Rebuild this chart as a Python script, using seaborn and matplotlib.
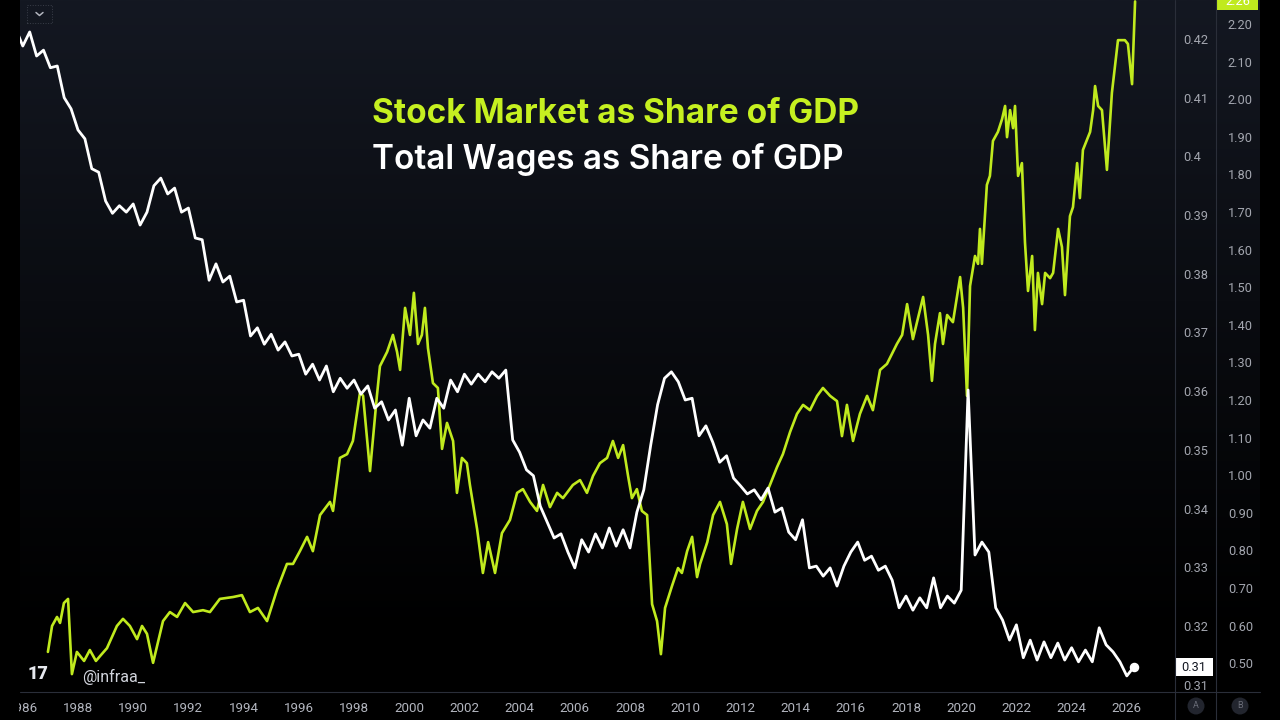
import numpy as np
import pandas as pd
import matplotlib
matplotlib.use("Agg")
import matplotlib.pyplot as plt
import seaborn as sns
from matplotlib.patches import Rectangle, Ellipse
from matplotlib.lines import Line2D
import matplotlib.transforms as mtrans

# ---------------- data ----------------
wage_start = 1985.75   # quarterly series start (decimal year)
wage_vals = [
    0.4217, 0.4188, 0.4212, 0.4171, 0.4181, 0.4151, 0.4154, 0.4100, 0.4081, 0.4045,
    0.4030, 0.3979, 0.3973, 0.3924, 0.3903, 0.3916, 0.3905, 0.3919, 0.3883, 0.3905,
    0.3950, 0.3963, 0.3936, 0.3946, 0.3905, 0.3912, 0.3861, 0.3858, 0.3789, 0.3817,
    0.3786, 0.3796, 0.3752, 0.3755, 0.3694, 0.3708, 0.3680, 0.3697, 0.3670, 0.3684,
    0.3660, 0.3663, 0.3629, 0.3646, 0.3619, 0.3643, 0.3599, 0.3622, 0.3605, 0.3619,
    0.3595, 0.3609, 0.3571, 0.3582, 0.3551, 0.3568, 0.3508, 0.3588, 0.3524, 0.3551,
    0.3537, 0.3588, 0.3571, 0.3619, 0.3599, 0.3629, 0.3612, 0.3629, 0.3616, 0.3633,
    0.3622, 0.3636, 0.3517, 0.3496, 0.3466, 0.3456, 0.3404, 0.3377, 0.3350, 0.3357,
    0.3326, 0.3299, 0.3347, 0.3326, 0.3357, 0.3333, 0.3367, 0.3336, 0.3364, 0.3333,
    0.3394, 0.3432, 0.3508, 0.3577, 0.3622, 0.3633, 0.3616, 0.3585, 0.3588, 0.3524,
    0.3541, 0.3513, 0.3479, 0.3490, 0.3452, 0.3439, 0.3425, 0.3432, 0.3415, 0.3435,
    0.3394, 0.3401, 0.3360, 0.3347, 0.3381, 0.3299, 0.3302, 0.3285, 0.3299, 0.3268,
    0.3302, 0.3326, 0.3343, 0.3312, 0.3319, 0.3295, 0.3302, 0.3278, 0.3231, 0.3251,
    0.3227, 0.3248, 0.3231, 0.3282, 0.3231, 0.3251, 0.3239, 0.3261, 0.3602, 0.3321,
    0.3343, 0.3326, 0.3231, 0.3210, 0.3176, 0.3202, 0.3146, 0.3176, 0.3142, 0.3173,
    0.3146, 0.3171, 0.3142, 0.3163, 0.3139, 0.3159, 0.3139, 0.3197, 0.3168, 0.3156,
    0.3139, 0.3115, 0.3130,
]
wage_years = wage_start + 0.25 * np.arange(len(wage_vals))

stock_years = [
    1986.91, 1987.06, 1987.24, 1987.35, 1987.49, 1987.64, 1987.78, 1987.96, 1988.22, 1988.43,
    1988.65, 1988.80, 1989.05, 1989.41, 1989.63, 1989.88, 1990.14, 1990.32, 1990.50, 1990.72,
    1991.08, 1991.33, 1991.59, 1991.88, 1992.17, 1992.53, 1992.78, 1993.14, 1993.62, 1993.94,
    1994.23, 1994.52, 1994.85, 1995.21, 1995.57, 1995.79, 1996.04, 1996.30, 1996.51, 1996.77,
    1997.13, 1997.24, 1997.49, 1997.75, 1997.96, 1998.22, 1998.33, 1998.58, 1998.83, 1998.94,
    1999.20, 1999.41, 1999.56, 1999.67, 1999.85, 2000.03, 2000.17, 2000.32, 2000.46, 2000.57,
    2000.68, 2000.86, 2001.04, 2001.19, 2001.37, 2001.59, 2001.73, 2001.91, 2002.09, 2002.20,
    2002.46, 2002.67, 2002.86, 2003.11, 2003.36, 2003.65, 2003.91, 2004.12, 2004.38, 2004.63,
    2004.85, 2005.10, 2005.36, 2005.57, 2005.93, 2006.19, 2006.44, 2006.66, 2006.91, 2007.17,
    2007.38, 2007.57, 2007.75, 2007.93, 2008.07, 2008.25, 2008.43, 2008.62, 2008.80, 2008.98,
    2009.12, 2009.27, 2009.52, 2009.74, 2009.88, 2010.07, 2010.25, 2010.43, 2010.54, 2010.80,
    2011.01, 2011.26, 2011.51, 2011.66, 2011.88, 2012.09, 2012.35, 2012.60, 2012.82, 2013.07,
    2013.33, 2013.54, 2013.80, 2014.05, 2014.27, 2014.52, 2014.78, 2014.99, 2015.25, 2015.50,
    2015.68, 2015.86, 2016.08, 2016.33, 2016.59, 2016.80, 2017.06, 2017.31, 2017.67, 2017.86,
    2018.04, 2018.25, 2018.62, 2018.80, 2018.94, 2019.05, 2019.23, 2019.34, 2019.49, 2019.70,
    2019.96, 2020.07, 2020.21, 2020.32, 2020.50, 2020.61, 2020.68, 2020.75, 2020.93, 2021.04,
    2021.15, 2021.33, 2021.48, 2021.59, 2021.66, 2021.77, 2021.88, 2021.95, 2022.06, 2022.20,
    2022.31, 2022.42, 2022.57, 2022.67, 2022.78, 2022.93, 2023.04, 2023.22, 2023.33, 2023.51,
    2023.65, 2023.76, 2023.94, 2024.05, 2024.20, 2024.30, 2024.41, 2024.67, 2024.78, 2024.85,
    2024.96, 2025.10, 2025.28, 2025.46, 2025.68, 2025.93, 2026.04, 2026.19, 2026.30,
]
stock_vals = [
    0.530, 0.599, 0.623, 0.607, 0.660, 0.671, 0.471, 0.530, 0.506, 0.535,
    0.506, 0.519, 0.540, 0.599, 0.618, 0.599, 0.564, 0.599, 0.578, 0.501,
    0.612, 0.636, 0.623, 0.660, 0.636, 0.641, 0.636, 0.671, 0.676, 0.681,
    0.636, 0.647, 0.612, 0.695, 0.764, 0.764, 0.798, 0.836, 0.798, 0.894,
    0.929, 0.905, 1.046, 1.056, 1.091, 1.221, 1.211, 1.011, 1.211, 1.290,
    1.328, 1.373, 1.328, 1.280, 1.445, 1.373, 1.485, 1.349, 1.373, 1.445,
    1.338, 1.245, 1.232, 1.070, 1.139, 1.091, 0.953, 1.046, 1.032, 0.974,
    0.857, 0.740, 0.822, 0.740, 0.846, 0.881, 0.953, 0.963, 0.929, 0.905,
    0.974, 0.915, 0.953, 0.939, 0.974, 0.987, 0.953, 0.998, 1.032, 1.046,
    1.091, 1.046, 1.080, 0.998, 0.939, 0.963, 0.905, 0.894, 0.657, 0.612,
    0.524, 0.647, 0.705, 0.753, 0.740, 0.798, 0.836, 0.729, 0.764, 0.822,
    0.894, 0.929, 0.870, 0.764, 0.857, 0.929, 0.857, 0.905, 0.929, 0.974,
    1.022, 1.056, 1.115, 1.163, 1.187, 1.173, 1.211, 1.232, 1.211, 1.197,
    1.104, 1.187, 1.091, 1.163, 1.211, 1.173, 1.280, 1.296, 1.349, 1.373,
    1.455, 1.362, 1.474, 1.373, 1.251, 1.349, 1.431, 1.349, 1.426, 1.407,
    1.527, 1.445, 1.211, 1.503, 1.583, 1.562, 1.655, 1.562, 1.772, 1.796,
    1.889, 1.913, 1.947, 1.982, 1.899, 1.971, 1.923, 1.982, 1.796, 1.830,
    1.620, 1.490, 1.583, 1.386, 1.538, 1.455, 1.538, 1.524, 1.538, 1.655,
    1.607, 1.479, 1.689, 1.713, 1.830, 1.737, 1.865, 1.913, 1.971, 2.035,
    1.982, 1.971, 1.812, 2.017, 2.157, 2.157, 2.147, 2.040, 2.260,
]

year_ticks = list(range(1986, 2027, 2))
wage_ticks = [0.31, 0.32, 0.33, 0.34, 0.35, 0.36, 0.37, 0.38, 0.39, 0.40, 0.41, 0.42]
stock_ticks = [0.5, 0.6, 0.7, 0.8, 0.9, 1.0, 1.1, 1.2, 1.3, 1.4, 1.5, 1.6, 1.7, 1.8, 1.9, 2.0, 2.1, 2.2]

title_stock = "Stock Market as Share of GDP"
title_wage = "Total Wages as Share of GDP"
watermark = "@infraa_"

# ---------------- style ----------------
GREEN = "#c0ea1e"
TITLE_GREEN = "#c6f020"
TICK_GRAY = "#a3a6af"
XTICK_GRAY = "#b2b5be"
SEP = "#2a2e39"

sns.set_theme(style="dark", rc={"axes.facecolor": "none", "figure.facecolor": "black",
                                "savefig.facecolor": "black"})
plt.rcParams['font.family'] = ['Roboto', 'DejaVu Sans']

W, H = 1280, 720
fig = plt.figure(figsize=(12.8, 7.2), dpi=100)
fig.patch.set_facecolor("black")


def fx(p):
    return p / W


def fy(p):
    return 1 - p / H


# background gradient (navy at top fading to black)
bg = fig.add_axes([fx(20), fy(692), fx(1260) - fx(20), 692 / H], zorder=-5)
t = np.linspace(0, 1, 400)[:, None]
top = np.array([20, 24, 34]) / 255
fade = np.clip(1 - t / 0.93, 0, 1) ** 1.1
grad = fade[..., None] * top[None, None, :]
bg.imshow(grad, aspect="auto", extent=[0, 1, 0, 1], interpolation="bilinear")
bg.set_axis_off()

# main axes (stock, right axis "B") and twin (wages, axis "A")
ax = fig.add_axes([fx(20), fy(692), fx(1175) - fx(20), 692 / H])
ax.set_facecolor("none")
df_s = pd.DataFrame({"year": stock_years, "val": stock_vals})
sns.lineplot(data=df_s, x="year", y="val", ax=ax, color=GREEN, linewidth=1.9,
             estimator=None, errorbar=None)

axw = ax.twinx()
df_w = pd.DataFrame({"year": wage_years, "val": wage_vals})
sns.lineplot(data=df_w, x="year", y="val", ax=axw, color="white", linewidth=2.0,
             estimator=None, errorbar=None)
axw.scatter([wage_years[-1]], [wage_vals[-1]], s=34, color="white", zorder=6)

ax.set_xlim(1985.899, 2027.746)
ax.set_ylim(0.4234, 2.2638)
axw.set_ylim(0.30876, 0.42664)

for a in (ax, axw):
    a.grid(False)
    a.set_xlabel("")
    a.set_ylabel("")
    for s in a.spines.values():
        s.set_visible(False)

ax.set_xticks(year_ticks)
ax.set_xticklabels([str(y) for y in year_ticks])
ax.tick_params(axis="x", length=0, pad=7, labelsize=9.6, labelcolor=XTICK_GRAY)

ax.yaxis.tick_right()
ax.set_yticks(stock_ticks)
ax.set_yticklabels([f"{v:.2f}" for v in stock_ticks])
ax.tick_params(axis="y", length=0, pad=38, labelsize=9.2, labelcolor=TICK_GRAY,
               left=False, right=False, labelleft=False, labelright=True)

axw.set_yticks(wage_ticks)
axw.set_yticklabels([f"{v:g}" for v in wage_ticks])
axw.tick_params(axis="y", length=0, pad=5.8, labelsize=9.2, labelcolor=TICK_GRAY)

# last-value boxes
bw = mtrans.blended_transform_factory(axw.transAxes, axw.transData)
dvw = 9 * (0.42664 - 0.30876) / 692
axw.add_patch(Rectangle((1.0, wage_vals[-1] - dvw), 38 / 1155, 2 * dvw, transform=bw,
                        facecolor="white", edgecolor="none", clip_on=False, zorder=8))
axw.text(1.0 + 19 / 1155, wage_vals[-1], f"{wage_vals[-1]:.2f}", transform=bw,
         ha="center", va="center", fontsize=9.2, color="#131722", clip_on=False, zorder=9)

bs = mtrans.blended_transform_factory(ax.transAxes, ax.transData)
dvs = 9 * (2.2638 - 0.4234) / 692
ax.add_patch(Rectangle((1197 / 1155, stock_vals[-1] - dvs), 41 / 1155, 2 * dvs, transform=bs,
                       facecolor=GREEN, edgecolor="none", clip_on=False, zorder=8))
ax.text(1217.5 / 1155, stock_vals[-1], f"{stock_vals[-1]:.2f}", transform=bs,
        ha="center", va="center", fontsize=9.2, color="white", clip_on=False, zorder=9)

# separators
fig.add_artist(Line2D([fx(1175), fx(1175)], [0, 1], color=SEP, lw=0.8, zorder=3))
fig.add_artist(Line2D([fx(1216), fx(1216)], [0, 1], color=SEP, lw=0.8, zorder=3))
fig.add_artist(Line2D([fx(20), fx(1260)], [fy(692), fy(692)], color=SEP, lw=0.8, zorder=3))

# left black strip (clips the first year label)
fig.add_artist(Rectangle((0, 0), fx(19), 1, transform=fig.transFigure,
                         facecolor="black", edgecolor="none", zorder=20))

# A / B scale buttons
for cx, lab in ((1196, "A"), (1240, "B")):
    fig.add_artist(Ellipse((fx(cx), fy(706)), 17 / W, 17 / H, transform=fig.transFigure,
                           facecolor="#22252e", edgecolor="none", zorder=4))
    fig.text(fx(cx), fy(706), lab, ha="center", va="center", fontsize=6.5,
             color="#6a6d78", zorder=5)

# top-left collapse button
fig.add_artist(Rectangle((fx(27), fy(23)), 25 / W, 18 / H, transform=fig.transFigure,
                         facecolor="none", edgecolor="#3a3e49", lw=0.7, linestyle=":", zorder=4))
fig.add_artist(Line2D([fx(36), fx(39.5), fx(43)], [fy(12.5), fy(15.5), fy(12.5)],
                      color="#b2b5be", lw=1.1, zorder=5))

# titles
fig.text(fx(372), fy(123), title_stock, color=TITLE_GREEN, fontsize=24,
         fontweight="bold", family=["Inter", "DejaVu Sans"], ha="left", va="baseline")
fig.text(fx(372), fy(168.5), title_wage, color="white", fontsize=24,
         fontweight="semibold", family=["Inter", "DejaVu Sans"], ha="left", va="baseline")

# watermark
fig.text(fx(28), fy(674), "17", color="#e6e8ee", fontsize=13, fontweight="black",
         ha="left", va="center", family=["Roboto", "DejaVu Sans"])
fig.text(fx(82), fy(677), watermark, color="#d1d4dc", fontsize=11.5,
         ha="left", va="center")

fig.savefig("out.png", dpi=100, facecolor="black")
